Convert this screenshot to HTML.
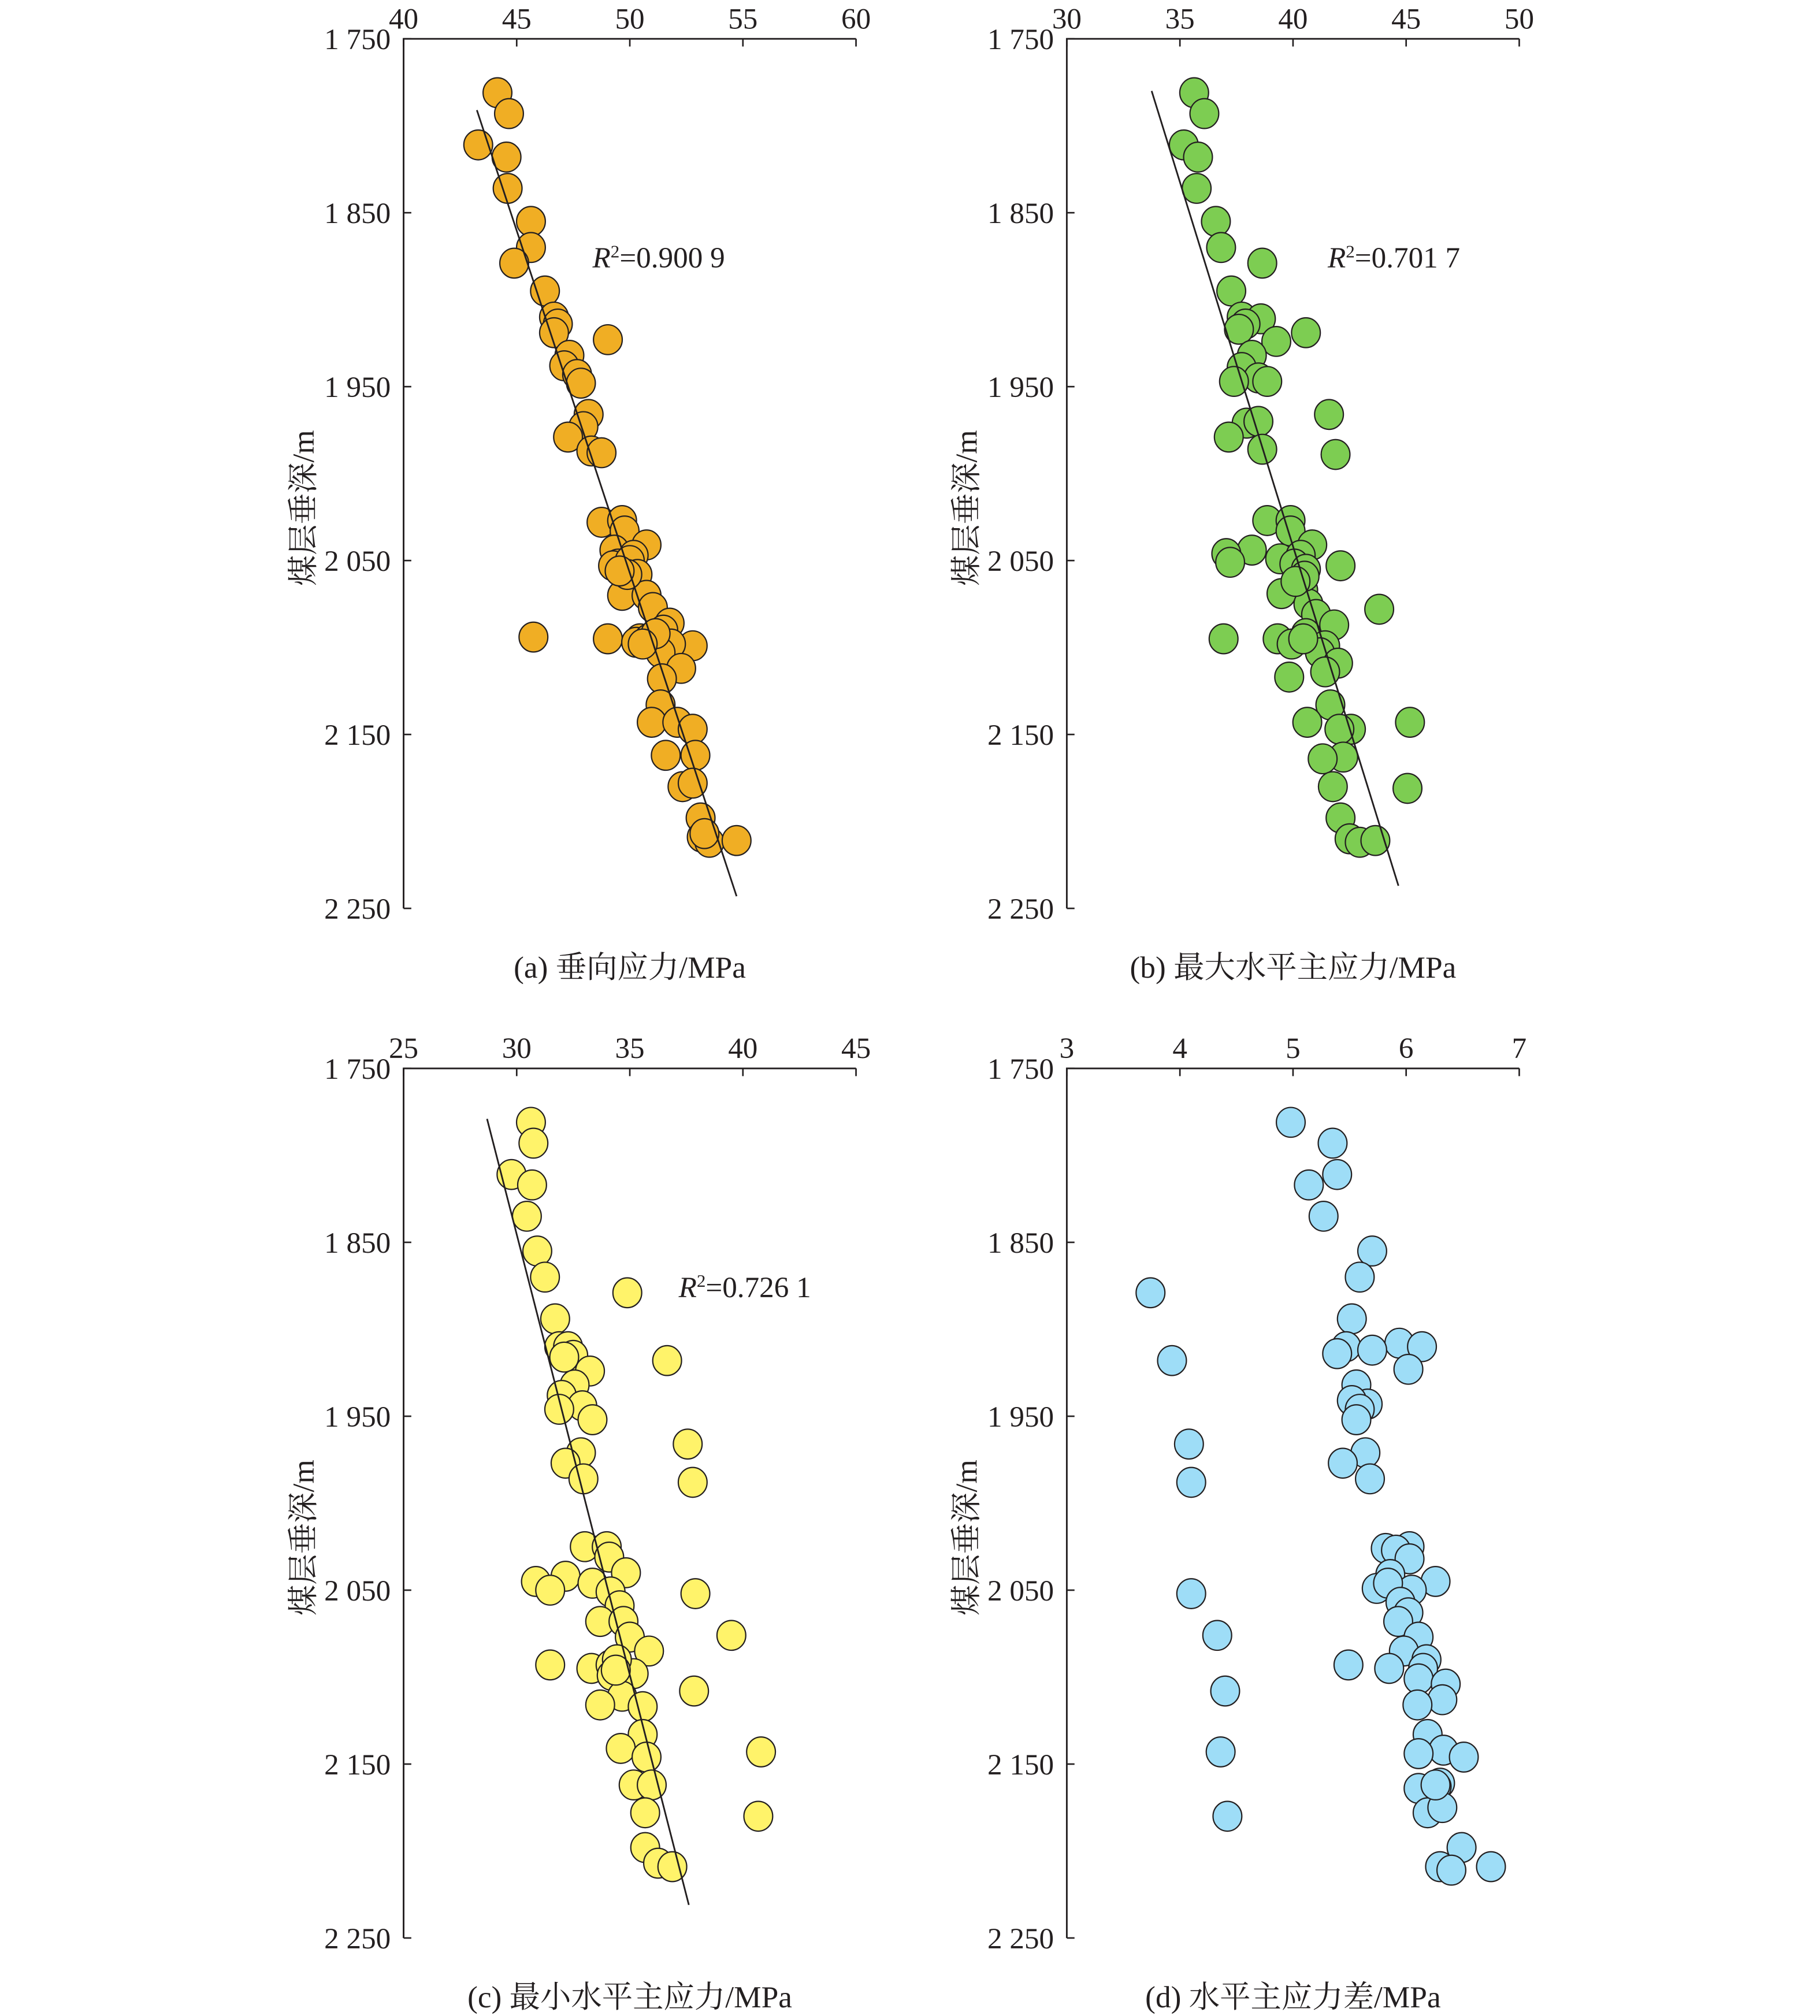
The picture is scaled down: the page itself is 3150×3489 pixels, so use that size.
<!DOCTYPE html>
<html><head><meta charset="utf-8">
<style>
html,body{margin:0;padding:0;background:#fff;}
svg{display:block;}
text{font-family:"Liberation Serif","Noto Serif CJK SC",serif;fill:#231f20;}
</style></head>
<body>
<svg id="fig" width="3150" height="3489" viewBox="0 0 1416 1568" xmlns="http://www.w3.org/2000/svg"></svg>
<script>
const depthTicks = [1750, 1850, 1950, 2050, 2150, 2250];
const depthTickLabels = ["1 750", "1 850", "1 950", "2 050", "2 150", "2 250"];

const aTicks = [40, 45, 50, 55, 60];
const aX = [44.15,44.66,43.30,44.55,44.60,45.63,45.63,44.89,46.25,46.65,46.82,46.65,49.03,47.33,47.10,47.67,47.84,48.18,47.95,47.27,48.30,48.75,48.75,49.66,49.77,49.32,50.74,49.49,50.17,49.26,50.00,50.34,49.66,50.74,51.02,51.76,51.48,49.03,45.74,50.45,50.28,50.85,52.78,51.82,51.36,52.27,51.42,51.36,50.97,52.10,52.78,51.59,52.90,52.33,52.78,53.13,53.18,53.52,54.72,53.30,51.14,50.57,49.89,49.55];
const aD = [1781,1793,1811,1818,1836,1855,1870,1879,1895,1910,1914,1919,1923,1932,1938,1943,1948,1966,1973,1979,1987,1988,2028,2027,2033,2044,2041,2052,2047,2053,2050,2058,2070,2070,2077,2086,2090,2095,2094,2095,2097,2095,2099,2098,2103,2112,2118,2133,2143,2143,2147,2162,2162,2180,2178,2198,2209,2212,2211,2207,2092,2098,2058,2056];
const aFit = [[43.24,1791],[54.72,2243]];

const bTicks = [30, 35, 40, 45, 50];
const bX = [35.63,36.08,35.17,35.80,35.74,36.59,36.82,38.64,37.27,37.73,38.58,37.90,37.61,39.26,40.57,38.18,37.73,38.47,38.86,37.39,41.59,37.95,38.47,37.16,38.64,41.88,38.86,39.89,39.89,38.18,40.85,37.05,37.22,39.43,40.34,40.06,40.57,42.10,40.45,39.49,40.68,43.81,41.02,41.82,40.57,39.32,36.93,39.94,41.42,41.19,41.99,41.42,39.83,41.65,40.63,42.56,42.05,42.22,41.31,41.76,45.17,45.06,42.10,42.50,42.95,43.64,40.45,40.51,40.11];
const bD = [1781,1793,1811,1818,1836,1855,1870,1879,1895,1910,1911,1914,1917,1924,1919,1932,1939,1945,1947,1947,1966,1971,1970,1979,1986,1989,2027,2027,2033,2044,2041,2046,2051,2049,2047,2052,2055,2053,2067,2069,2075,2078,2081,2087,2092,2095,2095,2098,2099,2103,2109,2114,2117,2133,2143,2147,2147,2163,2164,2180,2143,2181,2198,2210,2212,2211,2095,2059,2062];
const bFit = [[33.75,1780],[44.66,2237]];

const cTicks = [25, 30, 35, 40, 45];
const cX = [30.63,30.74,29.77,30.68,30.45,30.91,31.25,34.89,31.70,31.88,32.27,32.50,32.10,36.65,33.24,32.56,31.99,32.90,33.35,31.88,37.56,32.84,32.16,32.95,37.78,33.01,33.98,34.09,30.85,32.16,34.83,31.48,33.35,34.15,34.55,37.90,33.69,34.72,35.00,39.49,35.85,31.48,33.30,34.15,34.55,35.17,34.20,37.84,34.66,33.69,35.57,35.57,34.60,35.74,40.80,35.17,35.97,35.68,40.68,35.68,36.25,36.88,34.43,34.38];
const cD = [1781,1793,1811,1817,1835,1855,1870,1879,1894,1910,1910,1915,1916,1918,1924,1932,1938,1944,1952,1946,1966,1971,1977,1986,1988,2025,2025,2031,2045,2042,2040,2050,2046,2051,2059,2052,2068,2068,2077,2076,2085,2093,2095,2093,2096,2098,2099,2108,2111,2116,2117,2133,2141,2146,2143,2162,2162,2178,2180,2198,2207,2209,2090,2096];
const cFit = [[28.69,1779],[37.61,2231]];

const dTicks = [3, 4, 5, 6, 7];
const dX = [4.98,5.35,5.14,5.39,5.27,5.70,5.59,3.74,5.52,5.94,6.14,5.47,5.70,5.39,3.93,6.02,5.56,5.66,5.52,5.59,5.56,4.08,5.64,5.44,5.68,4.10,5.82,6.03,5.91,6.03,5.86,6.26,5.74,6.05,5.84,4.10,5.95,6.02,5.93,6.11,4.33,5.98,6.18,5.85,5.49,6.15,6.11,6.35,4.40,6.32,6.10,6.19,6.33,6.11,6.51,4.36,6.30,6.27,6.11,6.19,6.32,4.42,6.49,6.30,6.40,6.75,6.26];
const dD = [1781,1793,1817,1811,1835,1855,1870,1879,1894,1908,1910,1910,1912,1914,1918,1923,1932,1943,1941,1946,1952,1966,1971,1977,1986,1988,2026,2025,2027,2032,2041,2045,2049,2050,2046,2052,2057,2063,2068,2077,2076,2085,2090,2095,2093,2095,2101,2104,2108,2113,2116,2133,2142,2144,2146,2143,2161,2163,2164,2178,2175,2180,2198,2209,2211,2209,2162];

const NS = "http://www.w3.org/2000/svg";
const svg = document.getElementById("fig");
function mk(tag, attrs, parent) {
  const e = document.createElementNS(NS, tag);
  for (const k in attrs) e.setAttribute(k, attrs[k]);
  (parent || svg).appendChild(e);
  return e;
}

function panel(opt) {
  const g = mk("g", {});
  
  
  const L = opt.left, R = opt.left + 352, T = opt.top, B = opt.top + 676.5;
  const xmin = opt.ticks[0], xmax = opt.ticks[opt.ticks.length - 1];
  const sx = v => L + (v - xmin) / (xmax - xmin) * (R - L);
  const sy = d => T + (d - 1750) / 500 * (B - T);

  const pts = mk("g", {}, g);
  
  
  for (let i = 0; i < opt.xs.length; i++) {
    const c = mk("ellipse", {cx: sx(opt.xs[i]), cy: sy(opt.ds[i]), rx: 11.2, ry: 11.6, fill: opt.color, stroke: "#231f20", "stroke-width": 1}, pts);
    
    
  }
  if (opt.fit) {
    const l = mk("line", {x1: sx(opt.fit[0][0]), y1: sy(opt.fit[0][1]), x2: sx(opt.fit[1][0]), y2: sy(opt.fit[1][1]), stroke: "#231f20", "stroke-width": 1.3}, g);
    
    
  }
  const ax = mk("path", {d: `M${L},${B} L${L},${T} L${R},${T}`, fill: "none", stroke: "#231f20", "stroke-width": 1.3}, g);
  
  
  opt.ticks.forEach(v => {
    const x = sx(v);
    mk("line", {x1: x, y1: T, x2: x, y2: T + 6, stroke: "#231f20", "stroke-width": 1.2}, g);
    const t = mk("text", {x: x, y: T - 8, "text-anchor": "middle", "font-size": 23}, g);
    t.textContent = String(v);
    
    
  });
  depthTicks.forEach((d, i) => {
    const y = sy(d);
    mk("line", {x1: L, y1: y, x2: L + 6, y2: y, stroke: "#231f20", "stroke-width": 1.2}, g);
    const t = mk("text", {x: L - 10, y: y + 8, "text-anchor": "end", "font-size": 23}, g);
    t.textContent = depthTickLabels[i];
    
    
  });
  const yt = mk("text", {x: 0, y: 0, "text-anchor": "middle", "font-size": 24, transform: `translate(${L - 70},${T + 365}) rotate(-90)`}, g);
  yt.textContent = "煤层垂深/m";
  
  
  const cap = mk("text", {x: L + 176, y: B + 54, "text-anchor": "middle", "font-size": 24}, g);
  cap.textContent = opt.caption;
  
  
  if (opt.r2) {
    const r = mk("text", {x: opt.r2x, y: T + 178, "font-size": 23}, g);
    
    
    const a = mk("tspan", {"font-style": "italic"}, r); a.textContent = "R";
    const b = mk("tspan", {dy: -8, "font-size": 14}, r); b.textContent = "2";
    const c = mk("tspan", {dy: 8}, r); c.textContent = "=" + opt.r2;
  }
}

panel({name: "panel-a-vertical-stress", left: 314, top: 30, ticks: aTicks, xs: aX, ds: aD, fit: aFit, color: "#F0AE24", caption: "(a) 垂向应力/MPa", r2: "0.900 9", r2x: 461});
panel({name: "panel-b-max-horizontal-stress", left: 830, top: 30, ticks: bTicks, xs: bX, ds: bD, fit: bFit, color: "#7DCD52", caption: "(b) 最大水平主应力/MPa", r2: "0.701 7", r2x: 1033});
panel({name: "panel-c-min-horizontal-stress", left: 314, top: 831, ticks: cTicks, xs: cX, ds: cD, fit: cFit, color: "#FFF36A", caption: "(c) 最小水平主应力/MPa", r2: "0.726 1", r2x: 528});
panel({name: "panel-d-horizontal-stress-difference", left: 830, top: 831, ticks: dTicks, xs: dX, ds: dD, fit: null, color: "#9EDDF7", caption: "(d) 水平主应力差/MPa"});
</script>
</body></html>
